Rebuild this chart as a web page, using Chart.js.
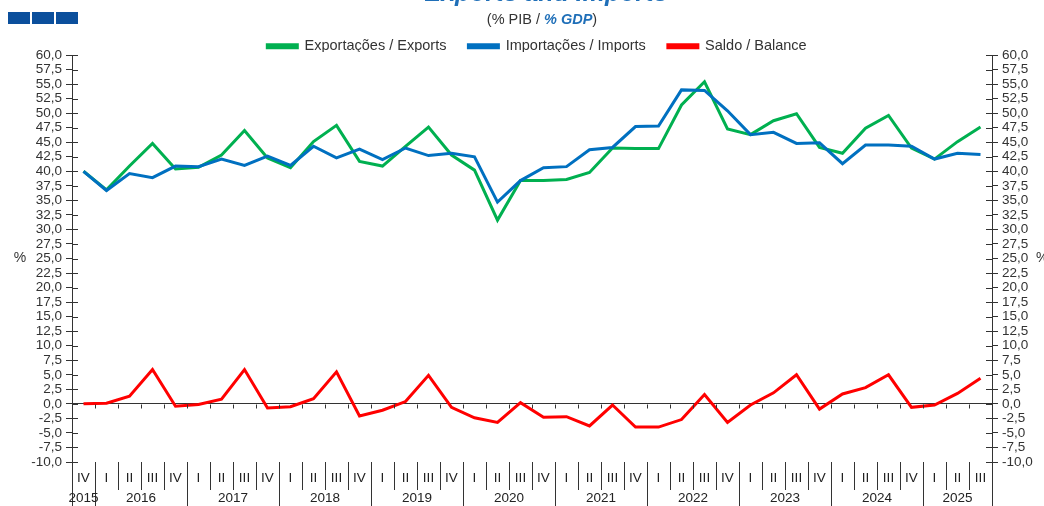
<!DOCTYPE html>
<html>
<head>
<meta charset="utf-8">
<script src="https://cdn.jsdelivr.net/npm/chart.js@4.4.1/dist/chart.umd.min.js"></script>
<style>
  html, body { margin: 0; padding: 0; background: #fff; }
  #wrap { width: 1044px; height: 506px; }
</style>
</head>
<body>
<div id="wrap"><canvas id="chart" width="1044" height="506"></canvas></div>
<script>
// Quarters from 2015 IV to 2025 III
const quarters = ['IV',
  'I', 'II', 'III', 'IV', 'I', 'II', 'III', 'IV', 'I', 'II', 'III', 'IV',
  'I', 'II', 'III', 'IV', 'I', 'II', 'III', 'IV', 'I', 'II', 'III', 'IV',
  'I', 'II', 'III', 'IV', 'I', 'II', 'III', 'IV', 'I', 'II', 'III', 'IV',
  'I', 'II', 'III'];
const years = ['2015', '2016', '2017', '2018', '2019', '2020', '2021', '2022', '2023', '2024', '2025'];

const exportsPct = [40.0, 36.8, 40.9, 44.8, 40.4, 40.7, 42.8, 47.0, 42.3, 40.6, 45.1, 47.9,
  41.7, 40.9, 44.3, 47.6, 42.8, 40.2, 31.6, 38.4, 38.4, 38.6, 39.8, 44.0,
  43.9, 43.9, 51.4, 55.4, 47.3, 46.3, 48.7, 49.9, 44.1, 43.1, 47.4, 49.6,
  44.0, 42.1, 45.1, 47.6];
const importsPct = [40.0, 36.7, 39.6, 38.9, 40.9, 40.8, 42.1, 41.0, 42.6, 41.0, 44.3, 42.3,
  43.8, 42.0, 44.0, 42.7, 43.1, 42.5, 34.7, 38.4, 40.6, 40.8, 43.7, 44.1,
  47.7, 47.8, 54.0, 53.9, 50.4, 46.3, 46.7, 44.8, 44.9, 41.3, 44.5, 44.5,
  44.3, 42.1, 43.1, 42.9];
const balancePct = [0.0, 0.1, 1.3, 5.9, -0.4, -0.1, 0.8, 5.9, -0.7, -0.5, 0.9, 5.5,
  -2.1, -1.1, 0.4, 4.9, -0.6, -2.4, -3.2, 0.2, -2.3, -2.2, -3.8, -0.2,
  -4.0, -4.0, -2.7, 1.6, -3.2, -0.2, 1.9, 5.0, -0.9, 1.7, 2.8, 5.0,
  -0.6, -0.2, 1.8, 4.4];

const FONT = "'Liberation Sans', Arial, sans-serif";
const AXIS = '#333333';
const BLUE_TXT = '#1f6fb8';

Chart.defaults.font.family = FONT;
Chart.defaults.font.size = 13;
Chart.defaults.color = '#333333';

function fmt(v) {
  return v.toFixed(1).replace('.', ',');
}

// titles, logo, x-axis separators and year labels
const decor = {
  id: 'decor',
  beforeLayout(chart) {
    const lg = chart.legend;
    if (lg && !lg._patched) {
      const fit = lg.fit;
      const draw = lg.draw;
      lg.fit = function () { fit.call(this); this.height = 35; };
      // nudge legend to where the original sits
      lg.draw = function () {
        const c = this.ctx;
        c.save();
        c.translate(15, -3);
        draw.call(this);
        c.restore();
      };
      lg._patched = true;
    }
  },
  afterDraw(chart) {
    const ctx = chart.ctx;
    const a = chart.chartArea;
    const xs = chart.scales.x;
    const ys = chart.scales.y;
    const H = chart.height;
    ctx.save();

    // logo
    ctx.fillStyle = '#0b4f9c';
    [8, 32, 56].forEach(function (lx) { ctx.fillRect(lx, 12, 22, 12); });

    // cut-off title
    ctx.fillStyle = BLUE_TXT;
    ctx.font = 'italic bold 25px ' + FONT;
    ctx.textAlign = 'center';
    ctx.textBaseline = 'alphabetic';
    ctx.fillText('Exports and Imports', 546, 1);

    // subtitle
    ctx.textBaseline = 'middle';
    ctx.textAlign = 'left';
    const p1 = '(% PIB / ', p2 = '% GDP', p3 = ')';
    ctx.font = '14.5px ' + FONT;
    const w1 = ctx.measureText(p1).width, w3 = ctx.measureText(p3).width;
    ctx.font = 'italic bold 14.5px ' + FONT;
    const w2 = ctx.measureText(p2).width;
    let sx = 542 - (w1 + w2 + w3) / 2;
    ctx.font = '14.5px ' + FONT;
    ctx.fillStyle = '#333';
    ctx.fillText(p1, sx, 20);
    ctx.font = 'italic bold 14.5px ' + FONT;
    ctx.fillStyle = BLUE_TXT;
    ctx.fillText(p2, sx + w1, 20);
    ctx.font = '14.5px ' + FONT;
    ctx.fillStyle = '#333';
    ctx.fillText(p3, sx + w1 + w2, 20);

    // % labels
    ctx.font = '14px ' + FONT;
    const yMid = ys.getPixelForValue(25);
    ctx.textAlign = 'center';
    ctx.fillText('%', 20, yMid);
    ctx.textAlign = 'left';
    ctx.fillText('%', 1036, yMid);

    ctx.strokeStyle = AXIS;
    ctx.lineWidth = 1;

    // axis lines down to the bottom
    ctx.beginPath();
    ctx.moveTo(a.left + 0.5, a.bottom);
    ctx.lineTo(a.left + 0.5, H);
    ctx.moveTo(a.right + 0.5, a.bottom);
    ctx.lineTo(a.right + 0.5, H);
    // inner half of y ticks
    ys.ticks.forEach(function (t) {
      const py = Math.round(ys.getPixelForValue(t.value)) + 0.5;
      ctx.moveTo(a.left, py);
      ctx.lineTo(a.left + 6, py);
      ctx.moveTo(a.right, py);
      ctx.lineTo(a.right - 6, py);
    });
    // separators between quarters, and ticks on zero line
    const y0 = Math.round(ys.getPixelForValue(0)) + 0.5;
    for (let i = 1; i < quarters.length; i++) {
      const bx = Math.round((xs.getPixelForValue(i - 1) + xs.getPixelForValue(i)) / 2) + 0.5;
      const bottom = quarters[i] === 'I' ? H : a.bottom + 28;
      ctx.moveTo(bx, a.bottom);
      ctx.lineTo(bx, bottom);
      ctx.moveTo(bx, y0);
      ctx.lineTo(bx, y0 + 4);
    }
    ctx.stroke();

    // year labels
    ctx.fillStyle = '#222';
    ctx.font = '13.5px ' + FONT;
    ctx.textAlign = 'center';
    let start = 0, yi = 0;
    for (let i = 1; i <= quarters.length; i++) {
      if (i === quarters.length || quarters[i] === 'I') {
        const cx = (xs.getPixelForValue(start) + xs.getPixelForValue(i - 1)) / 2;
        ctx.fillText(years[yi], cx, 498);
        yi++;
        start = i;
      }
    }
    ctx.restore();
  }
};

const yTicks = {
  autoSkip: false,
  stepSize: 2.5,
  padding: 4,
  color: '#333',
  font: { size: 13.5 },
  callback: function (v) { return fmt(v); }
};

new Chart(document.getElementById('chart'), {
  type: 'line',
  data: {
    labels: quarters,
    datasets: [
      { label: 'Exportações / Exports', data: exportsPct, borderColor: '#00b050', backgroundColor: '#00b050', order: 1 },
      { label: 'Importações / Imports', data: importsPct, borderColor: '#0070c0', backgroundColor: '#0070c0', order: 0 },
      { label: 'Saldo / Balance', data: balancePct, borderColor: '#ff0000', backgroundColor: '#ff0000', order: 2 }
    ]
  },
  options: {
    responsive: false,
    animation: false,
    elements: {
      line: { borderWidth: 3, tension: 0 },
      point: { radius: 0 }
    },
    layout: { padding: { top: 20, left: 0, right: 0, bottom: 0 } },
    plugins: {
      legend: {
        position: 'top',
        labels: {
          boxWidth: 30,
          boxHeight: 3,
          padding: 22,
          color: '#333',
          font: { size: 14.5 },
          sort: function (p, q) { return p.datasetIndex - q.datasetIndex; }
        }
      },
      tooltip: { enabled: false }
    },
    scales: {
      x: {
        offset: true,
        grid: { display: false, drawTicks: false },
        border: { display: false },
        ticks: { autoSkip: false, maxRotation: 0, padding: 8, color: '#222', font: { size: 13.5 } },
        afterFit: function (s) { s.height = 44; }
      },
      y: {
        position: 'left',
        min: -10,
        max: 60,
        ticks: yTicks,
        grid: {
          color: function (c) { return c.tick && c.tick.value === 0 ? AXIS : 'rgba(0,0,0,0)'; },
          tickColor: AXIS,
          tickLength: 6
        },
        border: { color: AXIS },
        afterFit: function (s) { s.width = 72; }
      },
      y1: {
        position: 'right',
        min: -10,
        max: 60,
        ticks: yTicks,
        grid: { drawOnChartArea: false, tickColor: AXIS, tickLength: 6 },
        border: { color: AXIS },
        afterFit: function (s) { s.width = 52; }
      }
    }
  },
  plugins: [decor]
});
</script>
</body>
</html>
